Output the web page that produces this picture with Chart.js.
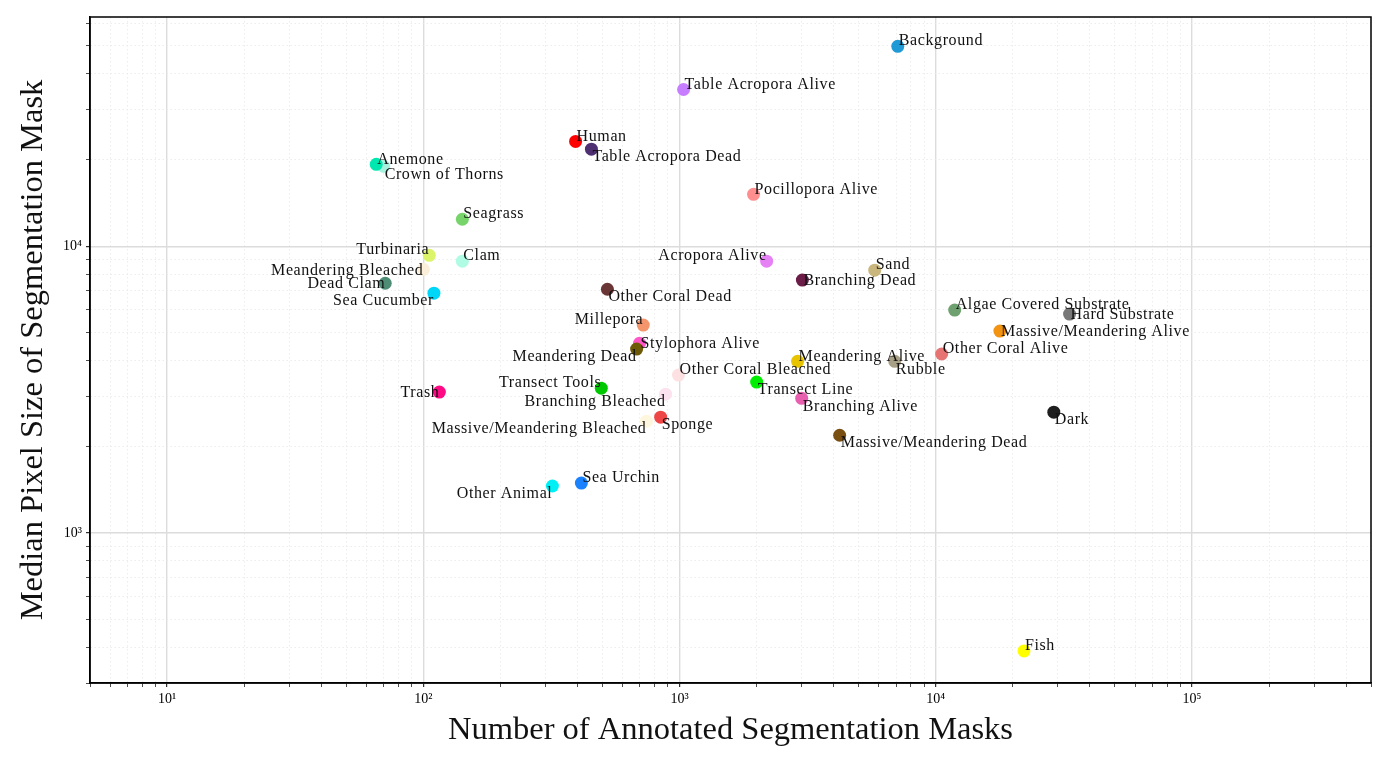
<!DOCTYPE html>
<html>
<head>
<meta charset="utf-8">
<script src="https://cdn.jsdelivr.net/npm/chart.js@4.4.1/dist/chart.umd.min.js"></script>
<style>
  html, body { margin: 0; padding: 0; background: #fff; }
  #wrap { width: 1388px; height: 764px; }
</style>
</head>
<body>
<div id="wrap"><canvas id="chart" width="1388" height="764"></canvas></div>
<script>
// class names (draw order matters where points overlap)
const classNames = [
  "Background", "Table Acropora Alive", "Human", "Table Acropora Dead",
  "Crown of Thorns", "Anemone", "Pocillopora Alive", "Seagrass", "Turbinaria",
  "Clam", "Meandering Bleached", "Dead Clam", "Sea Cucumber", "Acropora Alive",
  "Sand", "Branching Dead", "Other Coral Dead", "Algae Covered Substrate",
  "Hard Substrate", "Massive/Meandering Alive", "Millepora", "Stylophora Alive",
  "Meandering Dead", "Other Coral Alive", "Meandering Alive", "Rubble",
  "Other Coral Bleached", "Transect Line", "Transect Tools", "Trash",
  "Branching Bleached", "Branching Alive", "Sponge", "Massive/Meandering Bleached",
  "Dark", "Massive/Meandering Dead", "Sea Urchin", "Other Animal", "Fish"
];

// number of annotated masks (x)
const maskCounts = [
  7110, 1037, 393, 453,
  70, 65.5, 1945, 142, 105.5,
  142, 100, 71, 110, 2188,
  5780, 3017, 523, 11860,
  33300, 17800, 722, 698,
  680, 10550, 2890, 6920,
  991, 2000, 495, 115.5,
  882, 2998, 844, 743,
  28900, 4217, 414, 319, 22100
];

// median pixel size of mask (y)
const medianSizes = [
  49800, 35200, 23200, 21800,
  19000, 19300, 15170, 12420, 9300,
  8870, 8310, 7430, 6860, 8870,
  8250, 7620, 7080, 5990,
  5800, 5060, 5310, 4590,
  4380, 4210, 3970, 3970,
  3555, 3360, 3200, 3100,
  3050, 2950, 2535, 2455,
  2640, 2193, 1493, 1459, 388
];

const pointColors = [
  "#1f9ad6", "#c77dff", "#ff0000", "#4e2f72",
  "#a6f2de", "#00e8b0", "#ff8f8f", "#77d46a", "#dcf46a",
  "#b0fbe4", "#fbefd9", "#4e8c76", "#00d7f8", "#e580f5",
  "#c9b67c", "#6b1d48", "#6a3535", "#6fa070",
  "#787878", "#f29412", "#f4956c", "#ff56c8",
  "#6e5a06", "#e87373", "#e8c300", "#a89f87",
  "#fde0e2", "#00ef00", "#00c800", "#ff0a84",
  "#fbe2ee", "#e85fb0", "#ee4646", "#fff6de",
  "#1e1e1e", "#7a4f12", "#1a82ff", "#00f0f5", "#ffff00"
];

// where each name sits: r/l = text to the right/left of the dot, a/m/b = above/middle/below
const labelSpots = [
  "ra", "ra", "ra", "rb",
  "rb", "ra", "ra", "ra", "la",
  "ra", "lm", "lm", "lb", "la",
  "ra", "rm", "rb", "ra",
  "rm", "rm", "la", "rm",
  "lb", "ra", "ra", "rb",
  "ra", "rb", "la", "lm",
  "lb", "rb", "rb", "lb",
  "rb", "rb", "ra", "lb", "ra"
];

const decadeLabels = ["10⁰", "10¹", "10²", "10³", "10⁴", "10⁵"];

const X_MIN = 5, X_MAX = 5e5;
const Y_MIN = 300, Y_MAX = 63000;

const SERIF = "'Liberation Serif', 'DejaVu Serif', serif";
Chart.defaults.font.family = SERIF;
Chart.defaults.color = "#000";

function isDecade(v) {
  const l = Math.log10(v);
  return Math.abs(l - Math.round(l)) < 1e-9;
}

function logTicks(min, max) {
  const out = [];
  for (let e = Math.floor(Math.log10(min)); e <= Math.ceil(Math.log10(max)); e++) {
    for (let s = 1; s < 10; s++) {
      const v = s * Math.pow(10, e);
      if (v >= min * 0.999 && v <= max * 1.001) out.push({ value: v });
    }
  }
  return out;
}

function axisOptions(min, max, title, titlePad) {
  return {
    type: "logarithmic",
    min: min,
    max: max,
    z: 1, // grid above the dots, like the original
    afterBuildTicks: s => { s.ticks = logTicks(min, max); },
    ticks: {
      autoSkip: false,
      maxRotation: 0,
      padding: 4,
      font: { size: 14 },
      color: "#000",
      callback: v => isDecade(v) ? decadeLabels[Math.round(Math.log10(v))] : ""
    },
    grid: {
      color: c => (c.tick && isDecade(c.tick.value)) ? "#dcdcdc" : "#e8e8e8",
      lineWidth: c => (c.tick && isDecade(c.tick.value)) ? 1.4 : 0.8,
      tickColor: "#000",
      tickLength: 4,
      tickWidth: c => (c.tick && isDecade(c.tick.value)) ? 1 : 0.7
    },
    border: {
      display: true,
      color: "#000",
      width: 1.5,
      dash: c => (c.tick && !isDecade(c.tick.value)) ? [1.5, 2.5] : []
    },
    title: {
      display: true,
      text: title,
      font: { size: 32.5, family: SERIF },
      color: "#111",
      padding: titlePad
    }
  };
}

const frame = {
  id: "frame",
  afterDraw(chart) {
    const { ctx, chartArea: a } = chart;
    ctx.save();
    ctx.strokeStyle = "#000";
    ctx.lineWidth = 1.5;
    ctx.strokeRect(a.left, a.top, a.right - a.left, a.bottom - a.top);
    ctx.restore();
  }
};

const pointNames = {
  id: "pointNames",
  afterDraw(chart) {
    const ctx = chart.ctx;
    const meta = chart.getDatasetMeta(0);
    ctx.save();
    ctx.font = "16px " + SERIF;
    ctx.fillStyle = "#111";
    ctx.textBaseline = "middle";
    if ("letterSpacing" in ctx) ctx.letterSpacing = "0.6px";
    meta.data.forEach((pt, i) => {
      const spot = labelSpots[i];
      const right = spot[0] === "r";
      const dy = { a: -5, m: 1, b: 8 }[spot[1]];
      ctx.textAlign = right ? "left" : "right";
      ctx.fillText(classNames[i], pt.x + (right ? 1 : 0), pt.y + dy);
    });
    ctx.restore();
  }
};

const points = maskCounts.map((x, i) => ({ x: x, y: medianSizes[i] }));

const xAxis = axisOptions(X_MIN, X_MAX, "Number of Annotated Segmentation Masks", { top: 0, bottom: 14 });
xAxis.afterFit = s => { s.height = 81; };
const yAxis = axisOptions(Y_MIN, Y_MAX, "Median Pixel Size of Segmentation Mask", { top: 14, bottom: 0 });
yAxis.afterFit = s => { s.width = 90; };

new Chart(document.getElementById("chart"), {
  type: "scatter",
  data: {
    datasets: [{
      data: points,
      pointBackgroundColor: pointColors,
      pointBorderWidth: 0,
      pointRadius: 6.5,
      pointHoverRadius: 6.5
    }]
  },
  options: {
    responsive: false,
    animation: false,
    devicePixelRatio: 1,
    layout: { padding: { top: 17, right: 17, left: 0, bottom: 0 } },
    plugins: {
      legend: { display: false },
      tooltip: { enabled: false }
    },
    scales: { x: xAxis, y: yAxis }
  },
  plugins: [frame, pointNames]
});
</script>
</body>
</html>
